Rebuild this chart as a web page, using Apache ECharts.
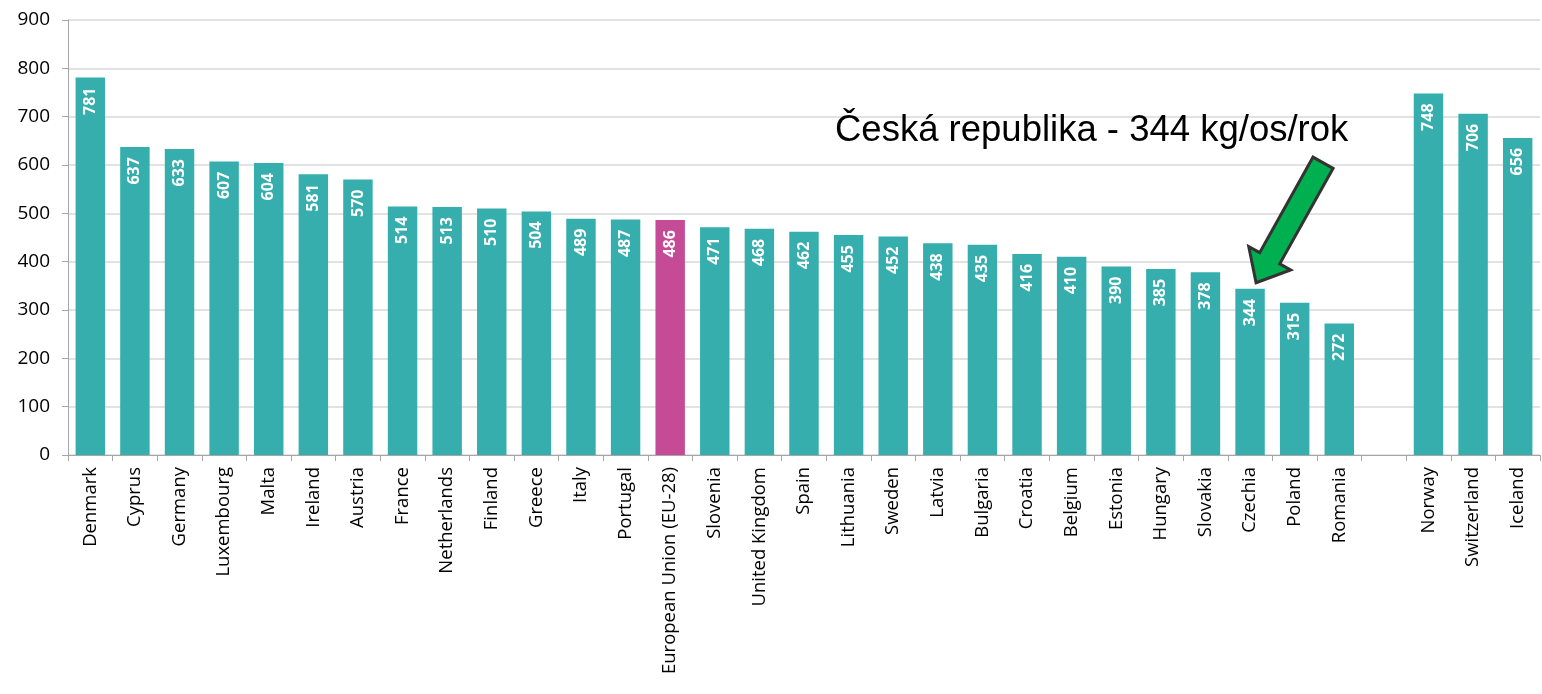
<!DOCTYPE html>
<html>
<head>
<meta charset="utf-8">
<script src="https://cdn.jsdelivr.net/npm/echarts@6/dist/echarts.min.js"></script>
<style>
  html,body{margin:0;padding:0;background:#fff;}
  #chart{width:1542px;height:694px;}
</style>
</head>
<body>
<div id="chart"></div>
<script>
// kategorie (prázdná položka odděluje státy mimo EU)
const countries = ['Denmark','Cyprus','Germany','Luxembourg','Malta','Ireland','Austria','France',
  'Netherlands','Finland','Greece','Italy','Portugal','European Union (EU-28)','Slovenia',
  'United Kingdom','Spain','Lithuania','Sweden','Latvia','Bulgaria','Croatia','Belgium',
  'Estonia','Hungary','Slovakia','Czechia','Poland','Romania','','Norway','Switzerland','Iceland']
// kg na osobu za rok
const values = [781,637,633,607,604,581,570,514,513,510,504,489,487,486,471,468,462,455,452,
  438,435,416,410,390,385,378,344,315,272,null,748,706,656]
const highlight = 'European Union (EU-28)'
const pointTo = 'Czechia'
const noteText = 'Česká republika - 344 kg/os/rok'

const chart = echarts.init(document.getElementById('chart'))

const font = '"Open Sans", sans-serif'

chart.setOption({
  animation:false,
  grid:{left:68,right:2,top:20,bottom:239,containLabel:false},
  xAxis:{
    type:'category',
    data:countries,
    axisLine:{lineStyle:{color:'#a6a6a6'}},
    axisTick:{show:true,length:6,lineStyle:{color:'#a6a6a6'}},
    axisLabel:{rotate:90,interval:0,color:'#000',fontSize:18.5,fontFamily:font,margin:12}
  },
  yAxis:{
    type:'value',
    min:0,max:900,interval:100,
    axisLine:{show:true,lineStyle:{color:'#a6a6a6'}},
    axisTick:{show:true,length:6,lineStyle:{color:'#a6a6a6'}},
    axisLabel:{color:'#000',fontSize:19,fontFamily:font,margin:18},
    splitLine:{lineStyle:{color:'#d9d9d9',width:1.5}}
  },
  series:[{
    type:'bar',
    barWidth:'66%',
    data:values.map((v,i)=>({
      value:v,
      itemStyle:{color:countries[i]===highlight?'#c64b97':'#35aead'}
    })),
    label:{
      show:true,
      position:'insideTop',
      rotate:90,
      align:'right',
      verticalAlign:'middle',
      distance:10,
      color:'#fff',
      fontSize:16,
      fontWeight:'bold',
      fontFamily:font
    }
  }]
})

// šipka směřující na Česko
const ci = countries.indexOf(pointTo)
const tip = chart.convertToPixel({xAxisIndex:0,yAxisIndex:0},[ci,values[ci]])
tip[0] += 6; tip[1] -= 6
const tail = [tip[0]+67, tip[1]-120]
const dx = tail[0]-tip[0], dy = tail[1]-tip[1]
const len = Math.hypot(dx,dy)
const ux = dx/len, uy = dy/len      // směr od špičky k ocasu
const px = -uy, py = ux             // kolmice
const shaft = 11.5, head = 24, headLen = 28
const pt = (a,b)=>[tip[0]+ux*a+px*b, tip[1]+uy*a+py*b]
const arrow = [
  pt(0,0), pt(headLen,head), pt(headLen,shaft), pt(len,shaft),
  pt(len,-shaft), pt(headLen,-shaft), pt(headLen,-head)
]

chart.setOption({
  graphic:[
    {
      type:'polygon',
      shape:{points:arrow},
      style:{fill:'#00b050',stroke:'#333',lineWidth:3,lineJoin:'miter'}
    },
    {
      type:'text',
      left:835,top:112,
      style:{text:noteText,fill:'#000',fontSize:36.5,fontFamily:'"Liberation Sans", Arial, sans-serif'}
    }
  ]
})
</script>
</body>
</html>
